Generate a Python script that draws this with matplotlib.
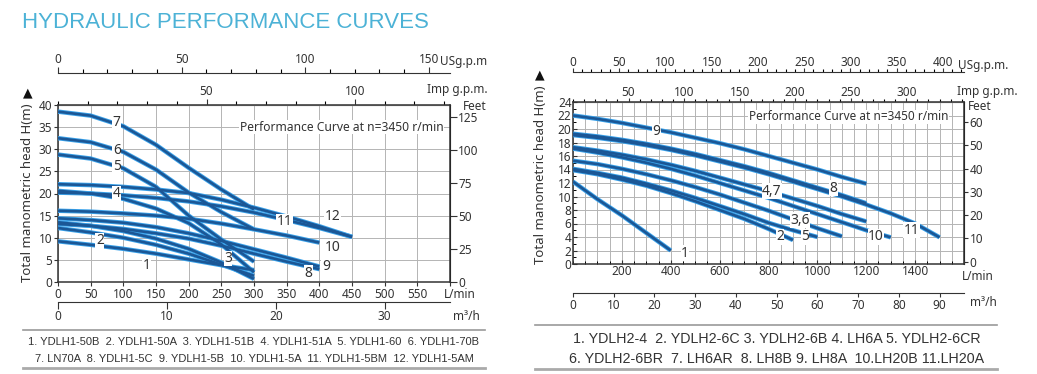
import numpy as np
import matplotlib.pyplot as plt
from matplotlib.ticker import MultipleLocator

# ---------------- data ----------------
# left chart (YDLH1), flow in L/min, head in m
q_l300 = [0, 50, 100, 150, 200, 250, 300]
q_l400 = [0, 50, 100, 150, 200, 250, 300, 350, 400]
q_l450 = [0, 50, 100, 150, 200, 250, 300, 350, 400, 450]
left_curves = {
    "1": (q_l300, [9.2, 8.4, 7.5, 6.4, 5.1, 3.8, 2.7]),
    "2": (q_l300, [12.2, 11.2, 10.0, 8.4, 6.4, 3.9, 1.4]),
    "3": (q_l300, [13.5, 12.7, 11.5, 9.8, 7.5, 4.4, 0.7]),
    "4": (q_l300, [20.6, 20.0, 18.8, 16.6, 13.3, 8.5, 2.2]),
    "5": (q_l300, [28.8, 27.9, 25.7, 21.5, 15.0, 9.6, 4.6]),
    "6": (q_l300, [32.5, 31.6, 29.4, 25.4, 20.2, 15.8, 11.9]),
    "7": (q_l300, [38.5, 37.6, 35.2, 31.0, 25.8, 20.9, 16.4]),
    "8": (q_l400, [13.1, 12.7, 12.0, 11.0, 9.8, 8.2, 6.4, 4.6, 2.9]),
    "9": (q_l400, [14.4, 14.0, 13.4, 12.4, 11.0, 9.3, 7.4, 5.5, 3.5]),
    "10": (q_l400, [16.1, 15.9, 15.5, 15.0, 14.3, 13.2, 11.9, 10.5, 8.9]),
    "11": (q_l450, [20.2, 20.0, 19.6, 19.0, 18.2, 17.1, 15.7, 14.0, 12.2, 10.2]),
    "12": (q_l450, [22.1, 21.9, 21.5, 20.9, 20.1, 18.6, 16.8, 14.8, 12.6, 10.2]),
}
left_labels = {"7": (90, 36), "6": (90, 29.8), "5": (90, 26), "4": (90, 20),
               "2": (64, 9.3), "1": (136, 3.8), "3": (260, 5.3),
               "8": (383, 2.0), "9": (410, 3.6), "10": (420, 7.8),
               "11": (347, 13.6), "12": (420, 14.8)}
left_legend = ["1. YDLH1-50B  2. YDLH1-50A  3. YDLH1-51B  4. YDLH1-51A  5. YDLH1-60  6. YDLH1-70B",
               "7. LN70A  8. YDLH1-5C  9. YDLH1-5B  10. YDLH1-5A  11. YDLH1-5BM  12. YDLH1-5AM"]

# right chart (YDLH2 / LH)
right_curves = {
    "1": ([0, 100, 200, 300, 400], [12.2, 9.6, 7.2, 4.6, 2.0]),
    "2": (list(range(0, 901, 100)), [13.9, 13.3, 12.5, 11.6, 10.5, 9.3, 8.0, 6.7, 5.2, 3.55]),
    "5": (list(range(0, 1001, 100)), [14.1, 13.5, 12.8, 11.9, 10.9, 9.8, 8.6, 7.4, 6.1, 5.0, 4.0]),
    "3,6": (list(range(0, 1101, 100)), [15.3, 14.8, 14.1, 13.3, 12.4, 11.4, 10.3, 9.1, 7.9, 6.6, 5.3, 4.1]),
    "4,7": (list(range(0, 1201, 100)), [17.3, 16.8, 16.2, 15.5, 14.7, 13.8, 12.8, 11.8, 10.8, 9.7, 8.6, 7.4, 6.3]),
    "10": (list(range(0, 1301, 100)), [17.1, 16.5, 15.8, 15.0, 14.1, 13.1, 12.0, 10.9, 9.8, 8.6, 7.4, 6.2, 5.0, 3.95]),
    "8": (list(range(0, 1201, 100)), [19.3, 18.9, 18.4, 17.8, 17.1, 16.3, 15.4, 14.5, 13.5, 12.4, 11.3, 10.2, 9.0]),
    "11": (list(range(0, 1501, 100)), [19.1, 18.7, 18.2, 17.6, 16.9, 16.1, 15.2, 14.3, 13.3, 12.2, 11.1, 10.0, 8.8, 7.5, 6.0, 3.95]),
    "9": (list(range(0, 1201, 100)), [22.0, 21.5, 20.9, 20.2, 19.5, 18.7, 17.9, 17.0, 16.0, 15.0, 14.0, 12.9, 11.9]),
}
right_labels = {"9": (342, 19.6), "4,7": (813, 10.8), "8": (1065, 11.2), "3,6": (929, 6.5),
                "2": (847, 4.0), "5": (949, 4.0), "10": (1240, 4.0), "11": (1386, 5.0),
                "1": (458, 1.6)}
right_legend = ["1. YDLH2-4  2. YDLH2-6C 3. YDLH2-6B 4. LH6A 5. YDLH2-6CR",
                "6. YDLH2-6BR  7. LH6AR  8. LH8B 9. LH8A  10.LH20B 11.LH20A"]

# ---------------- layout ----------------
W, H = 1037, 374
fig = plt.figure(figsize=(W / 100, H / 100), dpi=100)
plt.rcParams['font.family'] = ['Noto Sans', 'DejaVu Sans']
dark = '#333333'
grid_c = '#b4b4b4'


def P(x, y):
    return (x / W, 1 - y / H)


def rect(x0, y0, x1, y1):
    return [x0 / W, 1 - y1 / H, (x1 - x0) / W, (y1 - y0) / H]


fig.text(*P(22, 23), "HYDRAULIC PERFORMANCE CURVES", color='#4cb2d6', fontsize=16,
         family='Liberation Sans', va='center', ha='left')


def base_axes(r, xmax, ymax, xstep, ystep):
    ax = fig.add_axes(r)
    ax.set_xlim(0, xmax)
    ax.set_ylim(0, ymax)
    ax.xaxis.set_major_locator(MultipleLocator(xstep))
    ax.yaxis.set_major_locator(MultipleLocator(ystep))
    ax.grid(True, color=grid_c, lw=0.7)
    ax.set_axisbelow(True)
    for s in ax.spines.values():
        s.set_color(dark)
        s.set_linewidth(1.1)
    ax.tick_params(colors=dark, labelsize=8.5, length=3, width=0.8, pad=1)
    return ax


def draw_curves(ax, curves, labels):
    for name, (q, h) in curves.items():
        ax.plot(q, h, color='#3aa2ea', lw=3.2, solid_capstyle='butt', solid_joinstyle='round', zorder=3)
        ax.plot(q, h, color='#1b5796', lw=1.9, solid_capstyle='butt', solid_joinstyle='round', zorder=4)
    for name, (x, y) in labels.items():
        ax.text(x, y, name, fontsize=10, color=dark, ha='center', va='center', zorder=5,
                bbox=dict(fc='white', ec='none', pad=0.3))


def sec_x(ax, loc, fwd, inv, major, minor, labsize=8.5, length=4, pad=1):
    sx = ax.secondary_xaxis(loc, functions=(fwd, inv))
    sx.xaxis.set_major_locator(MultipleLocator(major))
    sx.xaxis.set_minor_locator(MultipleLocator(minor))
    sx.tick_params(colors=dark, labelsize=labsize, length=length, width=0.8, pad=pad)
    sx.tick_params(which='minor', length=length - 1, width=0.8)
    sx.spines[:].set_color(dark)
    return sx


# ---- left chart ----
axL = base_axes(rect(58, 105, 450, 282), 600, 40, 50, 5)
axL.set_xticks(range(0, 601, 50))
axL.set_xticklabels([str(v) for v in range(0, 551, 50)] + [''])
draw_curves(axL, left_curves, left_labels)
axL.text(434, 35, "Performance Curve at n=3450 r/min", fontsize=8.7, color=dark, ha='center',
         va='center', bbox=dict(fc='white', ec='none', pad=0.5), zorder=5)
s = sec_x(axL, 'top', lambda q: q / 4.546, lambda g: g * 4.546, 50, 10)
s.set_xticks([50, 100])
s = sec_x(axL, 1 + 32 / 177, lambda q: q / 3.785, lambda g: g * 3.785, 50, 10)
s.set_xticks([0, 50, 100, 150])
s = sec_x(axL, -20 / 177, lambda q: q * 0.06, lambda m: m / 0.06, 10, 100)
s.set_xticks([0, 10, 20, 30])
s.tick_params(length=5, pad=1)
fy_ = axL.secondary_yaxis('right', functions=(lambda m: m / 0.298, lambda f: f * 0.298))
fy_.set_yticks(range(0, 126, 25))
fy_.tick_params(colors=dark, labelsize=8.5, length=5, width=0.8, pad=1)
fig.text(*P(440, 62), "USg.p.m", fontsize=8.5, color=dark, ha='left', va='center')
fig.text(*P(427, 90), "Imp g.p.m.", fontsize=8.5, color=dark, ha='left', va='center')
fig.text(*P(463, 106), "Feet", fontsize=8.5, color=dark, ha='left', va='center')
fig.text(*P(444, 295), "L/min", fontsize=8.5, color=dark, ha='left', va='center')
fig.text(*P(453, 316), "m³/h", fontsize=8.5, color=dark, ha='left', va='center')
fig.text(*P(28, 193), "Total manometric head H(m)", fontsize=9.5, color=dark, rotation=90,
         ha='center', va='center')
fig.text(*P(28, 93), "▲", fontsize=9, color='#111111', ha='center', va='center', family='DejaVu Sans')
fig.add_artist(plt.Line2D([23 / W, 485 / W], [1 - 330 / H] * 2, color='#999999', lw=1.2))
fig.add_artist(plt.Line2D([23 / W, 485 / W], [1 - 368 / H] * 2, color='#aaaaaa', lw=2.0))
for i, line in enumerate(left_legend):
    fig.text(*P(254, 342 + 17 * i), line, fontsize=8, family='Liberation Sans', color=dark,
             ha='center', va='center')

# ---- right chart ----
axR = base_axes(rect(573, 102, 964, 264), 1600, 24, 200, 2)
axR.set_xticks(range(200, 1601, 200))
axR.set_xticklabels([str(v) for v in range(200, 1401, 200)] + [''])
axR.xaxis.set_minor_locator(MultipleLocator(50))
axR.yaxis.set_minor_locator(MultipleLocator(1))
axR.grid(True, which='minor', axis='x', color=grid_c, lw=0.7)
axR.tick_params(which='minor', length=2, direction='in', width=0.7)
axR.tick_params(which='major', direction='in', length=3)
draw_curves(axR, right_curves, right_labels)
axR.text(1129, 21.8, "Performance Curve at n=3450 r/min", fontsize=8.5, color=dark, ha='center',
         va='center', bbox=dict(fc='white', ec='none', pad=0.5), zorder=5)
s = sec_x(axR, 'top', lambda q: q / 4.546, lambda g: g * 4.546, 50, 10, length=3, pad=-1)
s.set_xticks(range(50, 301, 50))
s = sec_x(axR, 1 + 30 / 162, lambda q: q / 3.785, lambda g: g * 3.785, 50, 10, length=3, pad=-1)
s.set_xticks(range(0, 401, 50))
s = sec_x(axR, -29 / 162, lambda q: q * 0.06, lambda m: m / 0.06, 10, 100)
s.set_xticks(range(0, 91, 10))
s.tick_params(length=3, pad=1)
fy_ = axR.secondary_yaxis('right', functions=(lambda m: (m - 0.34) / 0.345, lambda f: f * 0.345 + 0.34))
fy_.set_yticks(range(0, 61, 10))
fy_.tick_params(colors=dark, labelsize=8.5, length=3, width=0.8, pad=1)
fig.text(*P(958, 65), "USg.p.m.", fontsize=8.5, color=dark, ha='left', va='center')
fig.text(*P(957, 92), "Imp g.p.m.", fontsize=8.5, color=dark, ha='left', va='center')
fig.text(*P(968, 107), "Feet", fontsize=8.5, color=dark, ha='left', va='center')
fig.text(*P(962, 277), "L/min", fontsize=8.5, color=dark, ha='left', va='center')
fig.text(*P(970, 302), "m³/h", fontsize=8.5, color=dark, ha='left', va='center')
fig.text(*P(540, 175), "Total manometric head H(m)", fontsize=9.5, color=dark, rotation=90,
         ha='center', va='center')
fig.text(*P(540, 75), "▲", fontsize=9, color='#111111', ha='center', va='center', family='DejaVu Sans')
fig.add_artist(plt.Line2D([535 / W, 997 / W], [1 - 325 / H] * 2, color='#999999', lw=1.2))
fig.add_artist(plt.Line2D([535 / W, 997 / W], [1 - 369 / H] * 2, color='#aaaaaa', lw=2.0))
for i, line in enumerate(right_legend):
    fig.text(*P(777, 339 + 20 * i), line, fontsize=10.3, family='Liberation Sans', color=dark,
             ha='center', va='center')

fig.savefig("out.png", dpi=100)
